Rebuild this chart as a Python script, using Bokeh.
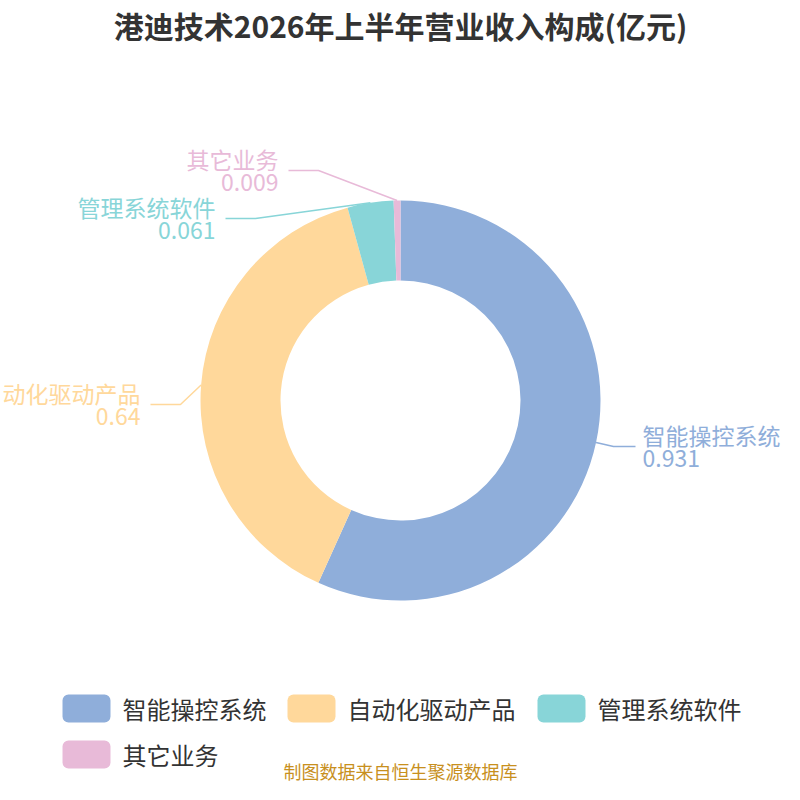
import math
from bokeh.plotting import figure
from bokeh.models import Range1d
from bokeh.core.properties import value
from bokeh.embed import file_html
from bokeh.resources import INLINE

title = "港迪技术2026年上半年营业收入构成(亿元)"
categories = ["智能操控系统", "自动化驱动产品", "管理系统软件", "其它业务"]
values = [0.931, 0.64, 0.061, 0.009]
value_labels = ["0.931", "0.64", "0.061", "0.009"]
colors = ["#8FAEDA", "#FFD89B", "#88D5D8", "#E8BAD8"]
source_text = "制图数据来自恒生聚源数据库"

FONT = "Noto Sans CJK SC"
W = H = 784

p = figure(width=W, height=H, x_range=Range1d(0, 784), y_range=Range1d(16, 800),
           output_backend="svg", toolbar_location=None, min_border=0)
p.axis.visible = False
p.grid.visible = False
p.outline_line_color = None
p.background_fill_color = "white"
p.border_fill_color = "white"

def Y(page_y):
    return 800 - page_y

cx, cy = 400, Y(400)
r_in, r_out = 120, 200

total = sum(values)
starts, ends, mids = [], [], []
cum = 0.0
for v in values:
    a0 = math.pi / 2 - 2 * math.pi * cum / total
    cum += v
    a1 = math.pi / 2 - 2 * math.pi * cum / total
    starts.append(a0)
    ends.append(a1)
    mids.append((a0 + a1) / 2)

p.annular_wedge(x=[cx] * 4, y=[cy] * 4, inner_radius=r_in, outer_radius=r_out,
                inner_radius_units="screen", outer_radius_units="screen",
                start_angle=starts, end_angle=ends, direction="clock",
                fill_color=colors, line_color=None)

# label layout (page coordinates of leader elbows, side, segment length, gap)
elbows = [(613, 446), (180, 404), (255, 218), (318, 170)]
sides = [1, -1, -1, -1]
segs = [22, 30, 30, 30]
gaps = [7, 10, 10, 10]
for i in range(4):
    sx = cx + r_out * math.cos(mids[i])
    sy = cy + r_out * math.sin(mids[i])
    ex, ey = elbows[i][0], Y(elbows[i][1])
    fx = ex + sides[i] * segs[i]
    p.line([sx, ex, fx], [sy, ey, ey], line_color=colors[i], line_width=1.5)
    tx = fx + sides[i] * gaps[i]
    align = "left" if sides[i] > 0 else "right"
    p.text(x=[tx], y=[ey + 12], text=[categories[i]], text_color=colors[i],
           text_font=value(FONT), text_font_size="23px", text_align=align,
           text_baseline="middle")
    p.text(x=[tx], y=[ey - 12], text=[value_labels[i]], text_color=colors[i],
           text_font=value(FONT), text_font_size="23px", text_align=align,
           text_baseline="middle")

# title
p.text(x=[400], y=[Y(24)], text=[title], text_color="#333333",
       text_font=value(FONT), text_font_size="30px", text_font_style="bold",
       text_align="center", text_baseline="middle")

# legend
leg_pos = [(62, 708), (287, 708), (537, 708), (62, 754)]
for i in range(4):
    lx, ly = leg_pos[i]
    p.rect(x=[lx + 24], y=[Y(ly)], width=48, height=28, width_units="screen",
           height_units="screen", fill_color=colors[i], line_color=None,
           border_radius=6)
    p.text(x=[lx + 60], y=[Y(ly)], text=[categories[i]], text_color="#333333",
           text_font=value(FONT), text_font_size="24px", text_align="left",
           text_baseline="middle")

p.text(x=[400], y=[Y(770)], text=[source_text], text_color="#C8901E",
       text_font=value(FONT), text_font_size="18px", text_align="center",
       text_baseline="middle")

open("out.html", "w").write(file_html(p, INLINE))
